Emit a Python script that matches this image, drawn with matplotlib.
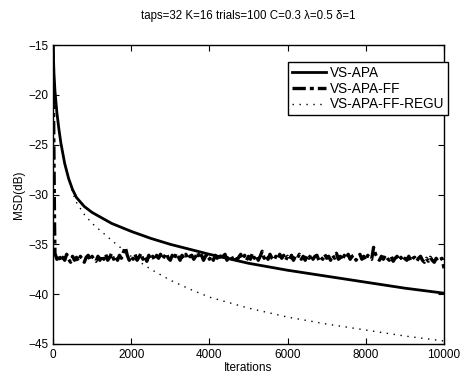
import matplotlib
matplotlib.use("Agg")
import matplotlib.pyplot as plt
import numpy as np

# VS-APA (solid)
apa_x = [0, 25, 50, 100, 150, 200, 300, 400, 500, 600, 800, 1000, 1500, 2000, 2500, 3000,
         3500, 4000, 5000, 6000, 7000, 8000, 9000, 10000]
apa_y = [-15.0, -17.8, -19.6, -21.8, -23.4, -24.8, -26.9, -28.4, -29.5, -30.3, -31.2, -31.8,
         -32.9, -33.7, -34.4, -35.0, -35.5, -36.0, -36.9, -37.6, -38.2, -38.8, -39.4, -39.9]

# VS-APA-FF (dash-dot)
ff_head_x = [0, 20, 40]
ff_head_y = [-15.0, -24.0, -33.0]
ff_tail_y = [
    -35.9, -36.5, -36.1, -36.7, -36.3, -36.6, -36.0, -36.5, -36.8, -36.2,
    -36.6, -36.3, -36.7, -36.2, -36.5, -36.8, -36.3, -36.1, -36.6, -36.2,
    -36.5, -36.7, -36.2, -36.6, -36.1, -36.5, -36.0, -36.6, -36.3, -35.9,
    -36.5, -36.2, -36.6, -36.1, -36.4, -35.8, -35.3, -36.1, -36.6, -36.2,
    -36.5, -36.0, -36.6, -36.3, -35.9, -36.5, -36.2, -36.7, -36.1, -36.5,
    -36.2, -36.6, -36.1, -36.4, -36.0, -36.5, -36.2, -35.9, -36.4, -36.6,
    -36.1, -36.5, -35.9, -36.2, -36.6, -36.1, -36.4, -36.0, -36.5, -36.2,
    -36.1, -36.5, -36.2, -35.8, -36.4, -36.1, -36.6, -36.2, -36.0, -36.5,
    -36.2, -36.6, -36.1, -36.4, -35.9, -36.5, -36.2, -36.0, -36.6, -36.3,
    -36.1, -36.5, -36.2, -36.6, -36.3, -36.0, -36.5, -36.1, -36.6, -36.2,
    -36.5, -35.9, -36.4, -36.1, -36.6, -36.2, -35.7, -36.4, -36.1, -36.5,
    -36.0, -36.4, -36.6, -36.2, -36.5, -36.0, -36.4, -36.1, -36.6, -36.2,
    -36.5, -36.1, -36.6, -36.2, -36.4, -36.0, -36.5, -36.2, -36.6, -36.1,
    -36.4, -36.0, -36.5, -36.2, -36.1, -36.6, -36.3, -36.5, -36.0, -36.4,
    -36.2, -36.6, -36.1, -36.4, -35.9, -36.5, -36.2, -36.6, -36.1, -36.4,
    -36.0, -36.5, -36.2, -36.1, -36.6, -36.3, -36.0, -36.5, -36.2, -36.6,
    -36.1, -36.4, -36.5, -35.3, -36.0, -36.4, -36.6, -36.2, -36.5, -36.1,
    -36.4, -36.6, -36.2, -36.7, -36.4, -36.2, -36.6, -36.3, -36.7, -36.4,
    -36.6, -36.2, -36.7, -36.4, -36.3, -36.7, -36.4, -36.2, -36.6, -36.8,
    -36.4, -36.7, -36.3, -36.6, -36.8, -36.4, -36.7, -36.5, -36.4, -37.4,
]
ff_x = ff_head_x + list(range(50, 10001, 50))
ff_y = ff_head_y + ff_tail_y

# VS-APA-FF-REGU (dotted)
regu_x = [0, 25, 50, 100, 150, 200, 300, 400, 500, 600, 800, 1000, 1500, 2000, 2500, 3000,
          3500, 4000, 5000, 6000, 7000, 8000, 9000, 10000]
regu_y = [-15.0, -17.8, -19.6, -21.8, -23.4, -24.8, -26.9, -28.5, -29.8, -30.8, -32.0, -32.9,
          -34.6, -36.2, -37.5, -38.6, -39.5, -40.3, -41.4, -42.3, -43.0, -43.6, -44.2, -44.7]

labels = ["VS-APA", "VS-APA-FF", "VS-APA-FF-REGU"]

plt.rcParams['font.family'] = ['Liberation Sans', 'DejaVu Sans']
plt.rcParams['font.size'] = 8.5

fig = plt.figure(figsize=(4.62, 3.72), dpi=100)
ax = fig.add_axes([0.1147, 0.0753, 0.8463, 0.8037])

ax.plot(apa_x, apa_y, color='black', linewidth=2, label=labels[0])
ax.plot(ff_x, ff_y, color='black', linewidth=2.4, linestyle=(0, (4, 1.2, 1.2, 1.2)), label=labels[1])
ax.plot(regu_x, regu_y, color='black', linewidth=1, linestyle=(0, (1, 4)), label=labels[2])

ax.set_xlim(0, 10000)
ax.set_ylim(-45, -15)
ax.set_xticks(np.arange(0, 10001, 2000))
ax.set_yticks(np.arange(-45, -14, 5))
ax.tick_params(direction='in', top=True, right=True, length=4, labelsize=8.5)
for s in ax.spines.values():
    s.set_linewidth(1)

ax.set_title("taps=32 K=16 trials=100 C=0.3 \u03bb=0.5 \u03b4=1", fontsize=8.3, pad=19)
ax.set_xlabel("Iterations", fontsize=8.5, labelpad=0.5)
ax.set_ylabel("MSD(dB)", fontsize=8.5, labelpad=2)

leg = ax.legend(loc='upper left', bbox_to_anchor=(0.601, 0.943), fontsize=9.8,
                fancybox=False, edgecolor='black', framealpha=1,
                handlelength=2.5, borderpad=0.3, labelspacing=0.12, handletextpad=0.25,
                borderaxespad=0)
leg.get_frame().set_linewidth(1)

fig.savefig("out.png", dpi=100)
